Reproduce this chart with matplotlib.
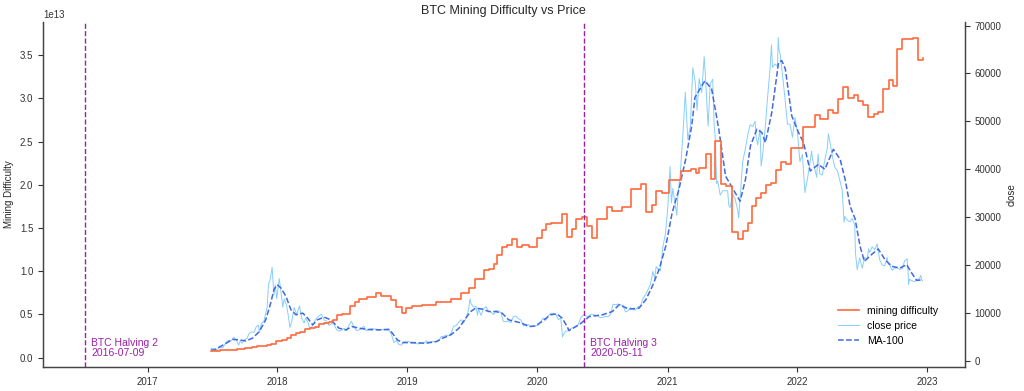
import matplotlib
matplotlib.use("Agg")
import matplotlib.pyplot as plt
import matplotlib.dates as mdates
import pandas as pd

plt.rcParams["font.family"] = ["Liberation Sans", "DejaVu Sans"]

# mining difficulty, step changes (value in trillions)
diff_dates = [
    "2017-06-28", "2017-07-23", "2017-08-18", "2017-09-10", "2017-10-01", "2017-10-22",
    "2017-11-05", "2017-12-03", "2017-12-15", "2017-12-28", "2018-01-13", "2018-01-27",
    "2018-02-08", "2018-02-22", "2018-03-06", "2018-03-20", "2018-04-03", "2018-04-16",
    "2018-04-29", "2018-05-12", "2018-05-25", "2018-06-05", "2018-06-18", "2018-07-01",
    "2018-07-24", "2018-08-06", "2018-08-19", "2018-09-11", "2018-10-05", "2018-10-19",
    "2018-11-16", "2018-12-01", "2018-12-17", "2018-12-29", "2019-01-14", "2019-02-11",
    "2019-03-23", "2019-05-04", "2019-06-01", "2019-06-23", "2019-07-10", "2019-08-04",
    "2019-08-18", "2019-09-01", "2019-09-09", "2019-09-23", "2019-10-08", "2019-10-21",
    "2019-11-05", "2019-11-18", "2019-12-08", "2019-12-31", "2020-01-14", "2020-01-25",
    "2020-02-08", "2020-03-10", "2020-03-24", "2020-04-07", "2020-04-18", "2020-05-05",
    "2020-05-19", "2020-06-03", "2020-06-17", "2020-07-15", "2020-07-28", "2020-08-26",
    "2020-09-20", "2020-10-18", "2020-11-01", "2020-11-18", "2020-11-29", "2020-12-16",
    "2021-01-05", "2021-02-08", "2021-03-07", "2021-03-21", "2021-03-30", "2021-04-18",
    "2021-05-02", "2021-05-13", "2021-05-30", "2021-06-13", "2021-07-01", "2021-07-17",
    "2021-07-31", "2021-08-14", "2021-08-26", "2021-09-06", "2021-09-20", "2021-10-04",
    "2021-10-18", "2021-11-01", "2021-11-17", "2021-11-29", "2021-12-13", "2022-01-18",
    "2022-02-18", "2022-03-04", "2022-03-29", "2022-04-12", "2022-04-26", "2022-05-10",
    "2022-05-24", "2022-06-10", "2022-06-21", "2022-07-05", "2022-07-19", "2022-08-05",
    "2022-08-16", "2022-08-30", "2022-09-16", "2022-09-27", "2022-10-08", "2022-10-22",
    "2022-11-22", "2022-12-06", "2022-12-19",
]
diff_values = [
    0.71, 0.86, 0.92, 1.00, 1.10, 1.17,
    1.35, 1.45, 1.59, 1.87, 2.00, 2.23,
    2.60, 2.87, 3.01, 3.29, 3.46, 3.51,
    3.84, 4.02, 4.14, 4.31, 4.94, 5.08,
    5.95, 6.39, 6.73, 7.02, 7.45, 7.18,
    6.65, 5.80, 5.18, 5.70, 5.96, 6.06,
    6.39, 6.73, 7.43, 8.00, 9.05, 10.14,
    10.30, 10.80, 11.90, 12.80, 13.00, 13.70,
    12.80, 13.00, 12.85, 13.80, 14.80, 15.45,
    15.60, 16.60, 14.00, 14.90, 16.10, 16.30,
    15.20, 13.90, 16.00, 17.40, 17.00, 17.40,
    19.50, 20.10, 16.90, 17.70, 19.30, 19.00,
    20.60, 21.55, 21.80, 21.40, 22.00, 23.60,
    20.70, 25.10, 20.10, 19.90, 14.50, 13.70,
    14.60, 15.60, 17.50, 18.50, 19.00, 20.00,
    20.20, 21.75, 22.70, 22.40, 24.30, 26.70,
    28.10, 27.60, 28.70, 28.30, 29.90, 31.30,
    30.00, 30.35, 29.70, 29.30, 27.80, 28.20,
    28.40, 31.05, 32.10, 31.40, 35.70, 36.90,
    37.05, 34.40, 34.70,
]

# BTC close price (USD)
close_dates = [
    "2017-06-28", "2017-07-01", "2017-07-08", "2017-07-12", "2017-07-16", "2017-07-20",
    "2017-07-27", "2017-08-01", "2017-08-05", "2017-08-12", "2017-08-17", "2017-08-22",
    "2017-08-26", "2017-09-01", "2017-09-08", "2017-09-14", "2017-09-18", "2017-09-24",
    "2017-09-30", "2017-10-07", "2017-10-13", "2017-10-20", "2017-10-27", "2017-11-02",
    "2017-11-08", "2017-11-12", "2017-11-17", "2017-11-24", "2017-11-29", "2017-12-03",
    "2017-12-07", "2017-12-11", "2017-12-17", "2017-12-22", "2017-12-26", "2017-12-30",
    "2018-01-06", "2018-01-10", "2018-01-16", "2018-01-20", "2018-01-27", "2018-02-01",
    "2018-02-05", "2018-02-10", "2018-02-17", "2018-02-24", "2018-03-04", "2018-03-10",
    "2018-03-17", "2018-03-21", "2018-03-28", "2018-04-01", "2018-04-07", "2018-04-14",
    "2018-04-21", "2018-04-28", "2018-05-05", "2018-05-12", "2018-05-19", "2018-05-26",
    "2018-06-02", "2018-06-09", "2018-06-16", "2018-06-23", "2018-06-30", "2018-07-07",
    "2018-07-14", "2018-07-21", "2018-07-28", "2018-08-04", "2018-08-11", "2018-08-18",
    "2018-08-25", "2018-09-01", "2018-09-08", "2018-09-15", "2018-09-22", "2018-09-29",
    "2018-10-06", "2018-10-13", "2018-10-20", "2018-10-27", "2018-11-03", "2018-11-10",
    "2018-11-17", "2018-11-24", "2018-12-01", "2018-12-08", "2018-12-15", "2018-12-22",
    "2018-12-29", "2019-01-05", "2019-01-12", "2019-01-19", "2019-01-26", "2019-02-02",
    "2019-02-09", "2019-02-16", "2019-02-23", "2019-03-02", "2019-03-09", "2019-03-16",
    "2019-03-23", "2019-03-30", "2019-04-06", "2019-04-13", "2019-04-20", "2019-04-27",
    "2019-05-04", "2019-05-11", "2019-05-18", "2019-05-25", "2019-06-01", "2019-06-08",
    "2019-06-15", "2019-06-22", "2019-06-26", "2019-06-29", "2019-07-06", "2019-07-13",
    "2019-07-17", "2019-07-20", "2019-07-27", "2019-08-03", "2019-08-10", "2019-08-17",
    "2019-08-24", "2019-08-31", "2019-09-07", "2019-09-14", "2019-09-21", "2019-09-28",
    "2019-10-05", "2019-10-12", "2019-10-19", "2019-10-26", "2019-11-02", "2019-11-09",
    "2019-11-16", "2019-11-23", "2019-11-30", "2019-12-07", "2019-12-14", "2019-12-21",
    "2019-12-28", "2020-01-04", "2020-01-11", "2020-01-18", "2020-01-25", "2020-02-01",
    "2020-02-08", "2020-02-15", "2020-02-22", "2020-02-29", "2020-03-07", "2020-03-12",
    "2020-03-14", "2020-03-21", "2020-03-28", "2020-04-04", "2020-04-11", "2020-04-18",
    "2020-04-25", "2020-05-02", "2020-05-09", "2020-05-16", "2020-05-23", "2020-05-30",
    "2020-06-06", "2020-06-13", "2020-06-20", "2020-06-27", "2020-07-04", "2020-07-11",
    "2020-07-18", "2020-07-25", "2020-08-01", "2020-08-08", "2020-08-15", "2020-08-22",
    "2020-08-29", "2020-09-05", "2020-09-12", "2020-09-19", "2020-09-26", "2020-10-03",
    "2020-10-10", "2020-10-17", "2020-10-24", "2020-10-31", "2020-11-07", "2020-11-14",
    "2020-11-21", "2020-11-26", "2020-11-30", "2020-12-05", "2020-12-12", "2020-12-19",
    "2020-12-26", "2021-01-02", "2021-01-08", "2021-01-12", "2021-01-16", "2021-01-22",
    "2021-01-27", "2021-01-30", "2021-02-06", "2021-02-13", "2021-02-20", "2021-02-27",
    "2021-03-06", "2021-03-13", "2021-03-20", "2021-03-25", "2021-03-31", "2021-04-07",
    "2021-04-14", "2021-04-17", "2021-04-25", "2021-05-01", "2021-05-08", "2021-05-12",
    "2021-05-15", "2021-05-19", "2021-05-22", "2021-05-29", "2021-06-05", "2021-06-12",
    "2021-06-19", "2021-06-22", "2021-06-26", "2021-07-03", "2021-07-10", "2021-07-17",
    "2021-07-20", "2021-07-24", "2021-07-31", "2021-08-07", "2021-08-14", "2021-08-21",
    "2021-08-28", "2021-09-04", "2021-09-07", "2021-09-11", "2021-09-18", "2021-09-21",
    "2021-09-25", "2021-10-02", "2021-10-09", "2021-10-16", "2021-10-20", "2021-10-23",
    "2021-10-30", "2021-11-06", "2021-11-08", "2021-11-10", "2021-11-13", "2021-11-20",
    "2021-11-27", "2021-12-04", "2021-12-11", "2021-12-18", "2021-12-25", "2022-01-01",
    "2022-01-08", "2022-01-15", "2022-01-22", "2022-01-29", "2022-02-05", "2022-02-10",
    "2022-02-12", "2022-02-19", "2022-02-24", "2022-02-28", "2022-03-05", "2022-03-12",
    "2022-03-19", "2022-03-26", "2022-03-29", "2022-04-02", "2022-04-09", "2022-04-16",
    "2022-04-23", "2022-04-30", "2022-05-07", "2022-05-12", "2022-05-14", "2022-05-21",
    "2022-05-28", "2022-06-04", "2022-06-11", "2022-06-13", "2022-06-18", "2022-06-25",
    "2022-07-02", "2022-07-09", "2022-07-16", "2022-07-20", "2022-07-23", "2022-07-30",
    "2022-08-06", "2022-08-13", "2022-08-20", "2022-08-27", "2022-09-03", "2022-09-10",
    "2022-09-13", "2022-09-17", "2022-09-24", "2022-10-01", "2022-10-08", "2022-10-15",
    "2022-10-22", "2022-10-29", "2022-11-05", "2022-11-08", "2022-11-09", "2022-11-12",
    "2022-11-19", "2022-11-26", "2022-12-03", "2022-12-10", "2022-12-13", "2022-12-17",
    "2022-12-19",
]
close_values = [
    2580, 2500, 2510, 2330, 1930, 2870,
    2680, 2720, 3250, 4070, 4280, 4080,
    4350, 4890, 4230, 3240, 4100, 3660,
    4340, 4610, 5640, 6010, 5900, 7030,
    7460, 5950, 7800, 8240, 9900, 11200,
    16100, 16700, 19500, 13800, 15800, 12950,
    17170, 14900, 11200, 12900, 11450, 9170,
    6950, 8130, 11100, 9660, 11440, 8870,
    7850, 8900, 7950, 6850, 7020, 8040,
    8900, 9390, 9700, 8500, 8230, 7350,
    7740, 7620, 6500, 6160, 6390, 6750,
    6250, 7400, 8220, 7040, 6300, 6400,
    6720, 7200, 6250, 6520, 6720, 6630,
    6600, 6340, 6490, 6480, 6380, 6400,
    5560, 3800, 4200, 3400, 3240, 3980,
    3870, 4040, 3620, 3700, 3570, 3500,
    3660, 3620, 4140, 3830, 3950, 4020,
    4000, 4110, 5040, 5070, 5330, 5200,
    5800, 7210, 7340, 8050, 8550, 7950,
    8860, 10700, 12900, 11900, 11200, 11360,
    9470, 10740, 9480, 10820, 11290, 10360,
    10140, 9630, 10480, 10360, 9970, 8200,
    8140, 8270, 7950, 9250, 9300, 8800,
    8500, 7300, 7570, 7510, 7080, 7140,
    7300, 7400, 8180, 8920, 8440, 9390,
    9900, 9900, 9700, 8600, 8900, 4970,
    5360, 6190, 6240, 6730, 6870, 7260,
    7550, 8900, 9550, 9380, 9180, 9700,
    9670, 9470, 9300, 9000, 9070, 9280,
    9170, 9700, 11800, 11680, 11850, 11680,
    11530, 10170, 10440, 11080, 10730, 10550,
    11300, 11360, 13000, 13800, 14800, 16000,
    18680, 17150, 19700, 19150, 18800, 23800,
    26500, 32200, 40600, 33000, 36000, 33000,
    30400, 34300, 39200, 47100, 56100, 46200,
    48900, 61200, 58100, 52300, 58900, 56000,
    63500, 60000, 49000, 57800, 58800, 49100,
    46700, 37000, 37500, 34600, 35500, 35500,
    35500, 32500, 32000, 34700, 33800, 31500,
    29800, 34000, 41500, 44000, 47000, 49300,
    48900, 50000, 46800, 45100, 48300, 40700,
    42800, 48200, 54900, 60900, 66000, 61300,
    62000, 61500, 67500, 65000, 64200, 59700,
    54800, 49400, 49400, 46700, 50800, 47700,
    41600, 43100, 35100, 37900, 41400, 43800,
    42200, 40000, 38300, 43200, 39000, 38800,
    42000, 44500, 47400, 45800, 42800, 40400,
    39700, 37700, 35500, 28900, 30100, 29400,
    29000, 29700, 28400, 22500, 19000, 21500,
    19300, 21600, 21200, 23400, 22600, 23800,
    23200, 24400, 21100, 20000, 19800, 21600,
    20200, 20000, 18900, 19300, 19400, 19100,
    19200, 20800, 21300, 18500, 15900, 17000,
    16700, 16500, 17000, 17100, 17800, 16800,
    16700,
]

# MA-100 of the close price
ma_dates = [
    "2017-06-28", "2017-07-08", "2017-08-10", "2017-08-28", "2017-09-16", "2017-10-04",
    "2017-10-23", "2017-11-11", "2017-11-29", "2017-12-13", "2017-12-22", "2017-12-31",
    "2018-01-11", "2018-01-25", "2018-02-08", "2018-02-22", "2018-03-13", "2018-03-27",
    "2018-04-10", "2018-04-23", "2018-05-12", "2018-05-31", "2018-06-23", "2018-07-12",
    "2018-07-30", "2018-08-18", "2018-09-15", "2018-10-13", "2018-11-10", "2018-11-20",
    "2018-12-04", "2018-12-18", "2019-01-15", "2019-02-22", "2019-03-23", "2019-04-10",
    "2019-05-03", "2019-05-26", "2019-06-14", "2019-06-28", "2019-07-12", "2019-07-31",
    "2019-08-18", "2019-09-06", "2019-09-24", "2019-10-13", "2019-11-01", "2019-11-19",
    "2019-12-08", "2019-12-27", "2020-01-14", "2020-02-07", "2020-02-25", "2020-03-11",
    "2020-03-25", "2020-03-30", "2020-04-27", "2020-05-26", "2020-07-02", "2020-07-30",
    "2020-08-18", "2020-09-15", "2020-10-13", "2020-11-01", "2020-11-19", "2020-12-08",
    "2020-12-27", "2021-01-14", "2021-02-02", "2021-02-21", "2021-03-10", "2021-03-19",
    "2021-04-16", "2021-05-05", "2021-05-25", "2021-06-13", "2021-07-10", "2021-07-24",
    "2021-08-08", "2021-08-22", "2021-09-09", "2021-09-23", "2021-10-03", "2021-10-21",
    "2021-11-09", "2021-11-18", "2021-11-28", "2021-12-16", "2022-01-04", "2022-01-18",
    "2022-02-06", "2022-03-01", "2022-03-19", "2022-04-12", "2022-05-01", "2022-05-15",
    "2022-05-29", "2022-06-12", "2022-06-26", "2022-07-08", "2022-07-28", "2022-08-16",
    "2022-09-04", "2022-09-23", "2022-10-16", "2022-11-04", "2022-11-18", "2022-12-02",
    "2022-12-19",
]
ma_values = [
    2250, 2250, 3650, 4450, 4340, 4130,
    4700, 6080, 8530, 12030, 14820, 15870,
    15180, 13420, 10630, 9580, 9940, 8890,
    7480, 8530, 9100, 8530, 6790, 6440,
    7130, 6790, 6500, 6440, 6560, 5740,
    4340, 3780, 3780, 3650, 3990, 4700,
    5390, 6790, 8890, 10270, 10980, 10770,
    10270, 10270, 9940, 8530, 8180, 7840,
    7130, 7270, 8180, 9580, 9790, 8890,
    7130, 6290, 7480, 9220, 9580, 10270,
    11680, 10770, 10980, 12730, 15510, 19010,
    23900, 30900, 35790, 42080, 49060, 55000,
    58490, 56750, 48370, 38580, 35090, 33330,
    37880, 44860, 48370, 47670, 45580, 51870,
    62350, 62690, 60950, 51150, 47670, 45580,
    39630, 41030, 39980, 44170, 42080, 37880,
    32290, 29640, 23900, 20750, 22160, 23350,
    21110, 19710, 19370, 20060, 18320, 16770,
    16910,
]

halving_dates = ["2016-07-09", "2020-05-11"]
halving_labels = ["BTC Halving 2\n2016-07-09", "BTC Halving 3\n2020-05-11"]

fig, ax = plt.subplots(figsize=(10.24, 3.91), dpi=100)
fig.subplots_adjust(left=0.042, right=0.942, bottom=0.061, top=0.944)
ax2 = ax.twinx()

# difficulty on the left axis, drawn above the price axis
l1, = ax.plot(pd.to_datetime(diff_dates), [v * 1e12 for v in diff_values],
              drawstyle="steps-post", color="#ff6a3d", lw=1.2, label="mining difficulty")
l2, = ax2.plot(pd.to_datetime(close_dates), close_values,
               color="#87cefa", lw=0.7, label="close price")
l3, = ax2.plot(pd.to_datetime(ma_dates), ma_values,
               color="#4169e1", lw=1.1, ls="--", label="MA-100")
ax.set_zorder(ax2.get_zorder() + 1)
ax.patch.set_visible(False)

for d, txt in zip(halving_dates, halving_labels):
    d = pd.Timestamp(d)
    ax.axvline(d, color="#9b1fa8", ls="--", lw=1.0)
    ax.text(d + pd.Timedelta(days=17), 0, txt, color="#9b1fa8",
            fontsize=7.5, va="bottom", ha="left", linespacing=1.0)

ax.set_title("BTC Mining Difficulty vs Price", fontsize=9, color="#262626")
ax.set_ylabel("Mining Difficulty", fontsize=7, color="#262626")
ax2.set_ylabel("close", fontsize=7, color="#262626")

ax.xaxis.set_major_locator(mdates.YearLocator())
ax.xaxis.set_major_formatter(mdates.DateFormatter("%Y"))

for a in (ax, ax2):
    a.tick_params(labelsize=7, length=3.5, width=0.8, colors="#333333")
    a.spines["top"].set_visible(False)
    for s in ("left", "right", "bottom"):
        a.spines[s].set_color("#444444")
        a.spines[s].set_linewidth(0.9)
ax.yaxis.get_offset_text().set_fontsize(7)
ax.yaxis.get_offset_text().set_color("#333333")

ax.legend(handles=[l1, l2, l3], loc="lower right", bbox_to_anchor=(0.976, 0.049),
          borderaxespad=0, frameon=False, fontsize=7.5)

fig.savefig("out.png", dpi=100)
